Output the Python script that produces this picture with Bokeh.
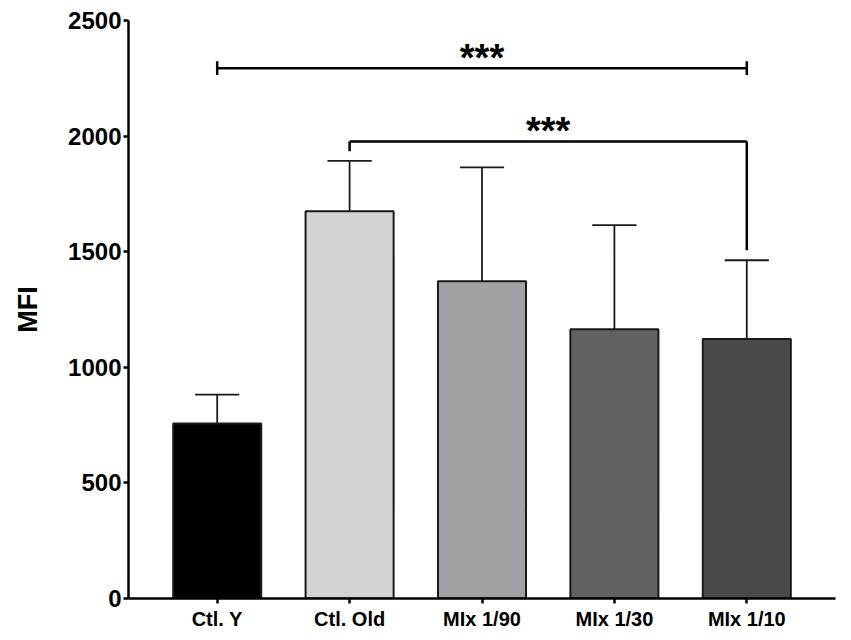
from bokeh.plotting import figure
from bokeh.models import Range1d, FixedTicker
from bokeh.core.properties import value
from bokeh.embed import file_html
from bokeh.resources import INLINE

# data
groups = ["Ctl. Y", "Ctl. Old", "MIx 1/90", "MIx 1/30", "MIx 1/10"]
mfi = [757, 1675, 1372, 1165, 1122]
sd = [125, 218, 493, 450, 341]
colors = ["#000000", "#d3d3d3", "#a2a2a6", "#616161", "#4a4a4a"]

# significance brackets: (start group, end group, bracket level, left drop, right drop)
sig_from = [0, 1]
sig_to = [4, 4]
sig_level = [2294, 1977]
sig_left_end = [None, 1935]
sig_right_end = [None, 1506]
sig_label = ["***", "***"]

FONT = "Liberation Sans"

x = list(range(len(groups)))
top = [m + s for m, s in zip(mfi, sd)]

p = figure(
    width=843, height=632,
    x_range=Range1d(-0.67, 4.67), y_range=Range1d(0, 2500),
    output_backend="svg", toolbar_location=None,
    min_border_left=128, min_border_right=8, min_border_top=20, min_border_bottom=34,
)
p.outline_line_color = None
p.grid.grid_line_color = None
p.background_fill_color = "white"

# bars
p.vbar(x=x, top=mfi, width=0.665, fill_color=colors,
       line_color="#1a1a1a", line_width=2)

# upper error bars with caps
p.segment(x0=x, y0=mfi, x1=x, y1=top, line_color="#1a1a1a", line_width=1.8)
p.segment(x0=[i - 0.167 for i in x], y0=top, x1=[i + 0.167 for i in x], y1=top,
          line_color="#1a1a1a", line_width=1.8)

# significance brackets
for a, b, lvl, le, re, lab in zip(sig_from, sig_to, sig_level, sig_left_end, sig_right_end, sig_label):
    p.segment(x0=[a], y0=[lvl], x1=[b], y1=[lvl], line_color="black", line_width=2.5)
    if le is None:
        # short symmetric end caps
        p.segment(x0=[a, b], y0=[lvl - 30, lvl - 30], x1=[a, b], y1=[lvl + 30, lvl + 30],
                  line_color="black", line_width=2.5)
    else:
        p.segment(x0=[a, b], y0=[lvl, lvl], x1=[a, b], y1=[le, re],
                  line_color="black", line_width=2.5)
    p.text(x=[(a + b) / 2], y=[lvl + 43], text=[lab], text_align="center",
           text_baseline="alphabetic", text_font=value(FONT), text_font_style="bold",
           text_font_size="38px", text_color="black")

# axes
p.xaxis.ticker = FixedTicker(ticks=x)
p.xaxis.major_label_overrides = {i: g for i, g in enumerate(groups)}
p.yaxis.ticker = FixedTicker(ticks=[0, 500, 1000, 1500, 2000, 2500])
p.yaxis.axis_label = "MFI"

for ax in (p.xaxis, p.yaxis):
    ax.axis_line_width = 2.5
    ax.axis_line_color = "black"
    ax.major_tick_line_width = 2.5
    ax.major_tick_line_color = "black"
    ax.major_tick_in = 0
    ax.major_tick_out = 5
    ax.minor_tick_line_color = None
    ax.major_label_text_font = FONT
    ax.major_label_text_font_style = "bold"
    ax.major_label_text_color = "black"

p.xaxis.major_label_text_font_size = "20px"
p.xaxis.major_label_standoff = 4
p.yaxis.major_label_text_font_size = "24px"
p.yaxis.major_label_standoff = 2
p.yaxis.axis_label_text_font = FONT
p.yaxis.axis_label_text_font_style = "bold"
p.yaxis.axis_label_text_font_size = "27px"
p.yaxis.axis_label_text_color = "black"
p.yaxis.axis_label_standoff = 22

open("out.html", "w").write(file_html(p, INLINE))
